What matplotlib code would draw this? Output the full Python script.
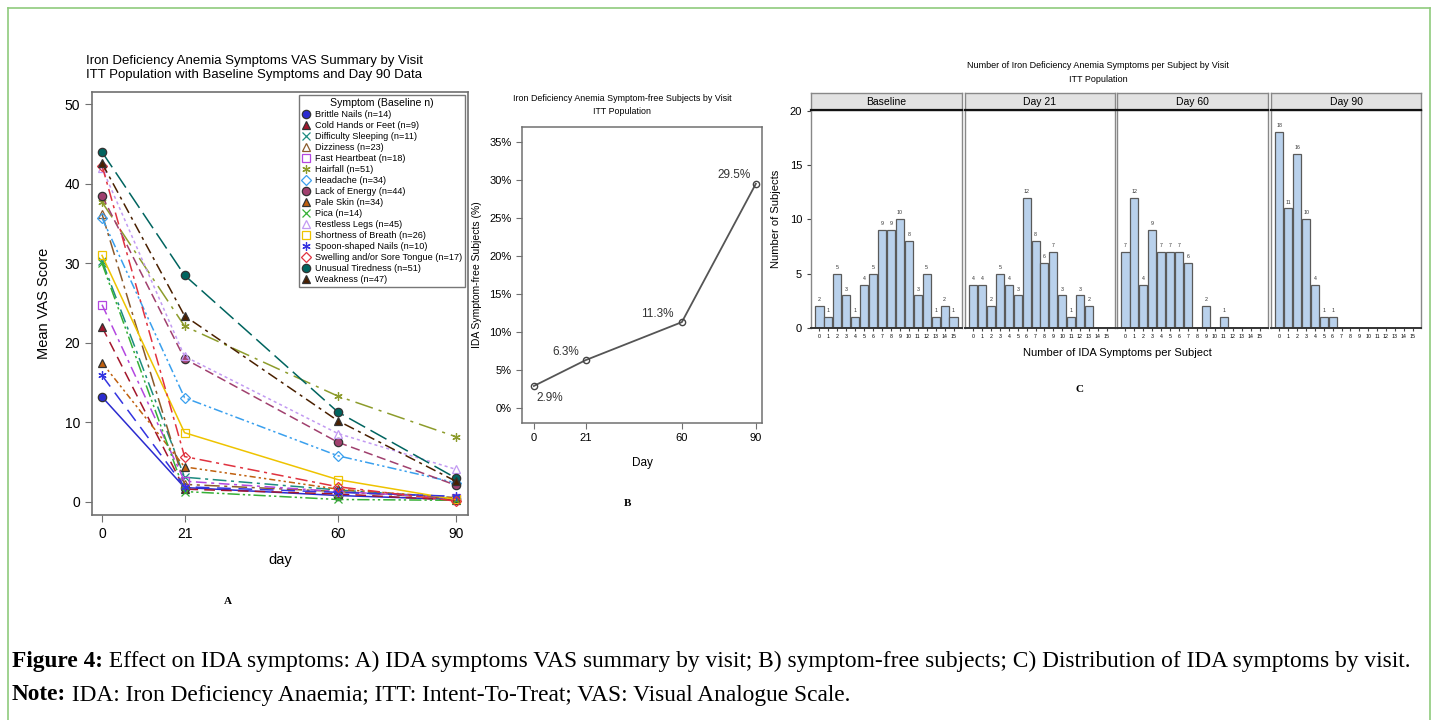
import matplotlib
matplotlib.use("Agg")
import matplotlib.pyplot as plt
from matplotlib.lines import Line2D
import numpy as np

W, H = 1436, 720
plt.rcParams['font.family'] = ['Liberation Sans', 'DejaVu Sans']

# ---------------- data ----------------
days = [0, 21, 60, 90]
symptoms = ["Brittle Nails (n=14)", "Cold Hands or Feet (n=9)", "Difficulty Sleeping (n=11)",
            "Dizziness (n=23)", "Fast Heartbeat (n=18)", "Hairfall (n=51)", "Headache (n=34)",
            "Lack of Energy (n=44)", "Pale Skin (n=34)", "Pica (n=14)", "Restless Legs (n=45)",
            "Shortness of Breath (n=26)", "Spoon-shaped Nails (n=10)",
            "Swelling and/or Sore Tongue (n=17)", "Unusual Tiredness (n=51)", "Weakness (n=47)"]
brittle_nails = [13.2, 1.8, 0.8, 0.3]
cold_hands = [22.0, 1.6, 1.0, 0.2]
difficulty_sleeping = [30.3, 3.1, 1.5, 0.5]
dizziness = [36.2, 2.2, 1.3, 0.4]
fast_heartbeat = [24.8, 2.6, 1.3, 0.5]
hairfall = [37.7, 22.1, 13.3, 8.2]
headache = [35.7, 13.1, 5.8, 2.4]
lack_of_energy = [38.5, 18.0, 7.5, 2.1]
pale_skin = [17.5, 4.4, 1.6, 0.5]
pica = [30.0, 1.3, 0.3, 0.2]
restless_legs = [42.0, 18.3, 8.6, 4.1]
shortness_of_breath = [31.0, 8.7, 2.8, 0.3]
spoon_nails = [15.9, 1.9, 1.2, 0.7]
swelling = [42.3, 5.7, 1.9, 0.1]
unusual_tiredness = [44.0, 28.5, 11.3, 3.0]
weakness = [42.6, 23.4, 10.2, 2.6]
series_a = [brittle_nails, cold_hands, difficulty_sleeping, dizziness, fast_heartbeat, hairfall,
            headache, lack_of_energy, pale_skin, pica, restless_legs, shortness_of_breath,
            spoon_nails, swelling, unusual_tiredness, weakness]

symptom_free_pct = [2.9, 6.3, 11.3, 29.5]
symptom_free_labels = ["2.9%", "6.3%", "11.3%", "29.5%"]

n_symptoms = list(range(16))
visits = ["Baseline", "Day 21", "Day 60", "Day 90"]
counts_baseline = [2, 1, 5, 3, 1, 4, 5, 9, 9, 10, 8, 3, 5, 1, 2, 1]
counts_day21 = [4, 4, 2, 5, 4, 3, 12, 8, 6, 7, 3, 1, 3, 2, 0, 0]
counts_day60 = [7, 12, 4, 9, 7, 7, 7, 6, 0, 2, 0, 1, 0, 0, 0, 0]
counts_day90 = [18, 11, 16, 10, 4, 1, 1, 0, 0, 0, 0, 0, 0, 0, 0, 0]
counts_c = [counts_baseline, counts_day21, counts_day60, counts_day90]

# ---------------- styles ----------------
styles = [
    dict(color='#2b2bcf', marker='o', mfc='#2b2bcf', ls='-'),
    dict(color='#a3162c', marker='^', mfc='#a3162c', ls=(0, (7, 4))),
    dict(color='#1d8c80', marker='x', mfc='none', ls=(0, (9, 3, 2, 3))),
    dict(color='#8b5a2b', marker='^', mfc='none', ls=(0, (10, 3, 2, 3))),
    dict(color='#b347e0', marker='s', mfc='none', ls=(0, (7, 3, 2, 3))),
    dict(color='#8d9c2c', marker=(6, 2, 0), mfc='none', ls=(0, (12, 4, 2, 4))),
    dict(color='#3aa0ee', marker='D', mfc='none', ls=(0, (6, 2, 1.5, 2, 1.5, 2))),
    dict(color='#a0406e', marker='o', mfc='#a0406e', ls=(0, (6, 3))),
    dict(color='#c0600e', marker='^', mfc='#c0600e', ls=(0, (4, 2, 1.5, 2, 1.5, 2))),
    dict(color='#36b036', marker='x', mfc='none', ls=(0, (8, 2, 1.5, 2, 1.5, 2))),
    dict(color='#c29af2', marker='^', mfc='none', ls=(0, (2, 2))),
    dict(color='#eec300', marker='s', mfc='none', ls='-'),
    dict(color='#3434e0', marker=(6, 2, 0), mfc='none', ls=(0, (9, 5))),
    dict(color='#e0323f', marker='D', mfc='none', ls=(0, (8, 3, 2, 3))),
    dict(color='#00645f', marker='o', mfc='#00645f', ls=(0, (12, 4))),
    dict(color='#4a2000', marker='^', mfc='#4a2000', ls=(0, (7, 3, 2, 3))),
]

fig = plt.figure(figsize=(W / 100, H / 100), dpi=100)


def ax_px(l, t, r, b):
    return fig.add_axes([l / W, 1 - b / H, (r - l) / W, (b - t) / H])


# green frame
fig.add_artist(Line2D([8 / W, 8 / W], [0, 1 - 8 / H], color='#8fcb7d', lw=1.2))
fig.add_artist(Line2D([8 / W, 1430 / W], [1 - 8 / H, 1 - 8 / H], color='#8fcb7d', lw=1.2))
fig.add_artist(Line2D([1430 / W, 1430 / W], [0, 1 - 8 / H], color='#8fcb7d', lw=1.2))

frame_col = '#707070'

# ---------------- Panel A ----------------
axA = ax_px(92, 92, 468, 515)
for vals, st, name in zip(series_a, styles, symptoms):
    ms = 6 if st['marker'] not in ('D',) else 5
    axA.plot(days, vals, color=st['color'], ls=st['ls'], lw=1.1, marker=st['marker'],
             mfc=st['mfc'], mec=st['color'] if st['mfc'] == 'none' else '#333333', mew=0.9,
             ms=ms, label=name)
axA.set_xlim(-2.55, 93.1)
axA.set_ylim(-1.65, 51.55)
axA.set_xticks(days)
axA.set_yticks([0, 10, 20, 30, 40, 50])
axA.tick_params(labelsize=10, color=frame_col, length=5)
for s in axA.spines.values():
    s.set_color(frame_col)
    s.set_linewidth(1.2)
axA.set_xlabel('day', fontsize=10.5, labelpad=9)
axA.set_ylabel('Mean VAS Score', fontsize=10.5, labelpad=10)
fig.text(254 / W, 1 - 68 / H, 'Iron Deficiency Anemia Symptoms VAS Summary by Visit\n'
         'ITT Population with Baseline Symptoms and Day 90 Data', fontsize=9.5,
         ha='center', va='center', linespacing=1.15)
leg = axA.legend(loc='upper right', fontsize=6.6, title='Symptom (Baseline n)', title_fontsize=7.6,
                 frameon=True, fancybox=False, edgecolor='#555555', handlelength=0.9,
                 handletextpad=0.5, labelspacing=0.22, borderpad=0.35, borderaxespad=0.3,
                 bbox_to_anchor=(1.0, 1.0))
for h in leg.legend_handles:
    h.set_linestyle('None')
fig.text(228 / W, 1 - 601 / H, 'A', fontsize=8, fontweight='bold', family='Liberation Serif',
         ha='center', va='center')

# ---------------- Panel B ----------------
axB = ax_px(522, 127, 762, 423)
axB.plot(days, symptom_free_pct, color='#555555', lw=1.3, marker='o', mfc='none', mec='#444444',
         ms=4.5, mew=1)
axB.set_xlim(-4.8, 92.5)
axB.set_ylim(-1.97, 36.97)
axB.set_xticks(days)
axB.set_yticks(range(0, 40, 5))
axB.set_yticklabels([f'{v}%' for v in range(0, 40, 5)])
axB.tick_params(labelsize=8, color=frame_col, length=4)
for s in axB.spines.values():
    s.set_color(frame_col)
    s.set_linewidth(1.1)
axB.set_xlabel('Day', fontsize=8.5, labelpad=10)
axB.set_ylabel('IDA Symptom-free Subjects (%)', fontsize=7.5, labelpad=5)
fig.text(622 / W, 1 - 105 / H,
         'Iron Deficiency Anemia Symptom-free Subjects by Visit\nITT Population',
         fontsize=6.4, ha='center', va='center', linespacing=1.6)
offsets = [(2, -9), (-5, 6), (-6, 6), (-4, 6)]
has = ['left', 'right', 'right', 'right']
for x, y, lab, off, ha in zip(days, symptom_free_pct, symptom_free_labels, offsets, has):
    axB.annotate(lab, (x, y), xytext=off, textcoords='offset points', fontsize=8.5, ha=ha,
                 va='center', color='#333333')
fig.text(628 / W, 1 - 503 / H, 'B', fontsize=8, fontweight='bold', family='Liberation Serif',
         ha='center', va='center')

# ---------------- Panel C ----------------
panel_lr = [(811, 962), (965, 1115), (1117, 1268), (1271, 1421)]
c_top, c_bot, strip_top = 110, 328, 93
for i, ((l, r), vis, cnts) in enumerate(zip(panel_lr, visits, counts_c)):
    ax = ax_px(l, c_top, r, c_bot)
    ax.bar(n_symptoms, cnts, width=0.9, color='#b9d1ec', edgecolor='#5a5a5a', lw=0.9)
    for x, v in zip(n_symptoms, cnts):
        if v > 0:
            ax.text(x, v + 0.35, str(v), fontsize=3.8, ha='center', va='bottom', color='#333333')
    ax.set_xlim(-0.95, 15.95)
    ax.set_ylim(0, 20.05)
    ax.set_xticks(n_symptoms)
    ax.tick_params(axis='x', labelsize=3.8, length=2, pad=2, color='#444444')
    if i == 0:
        ax.set_yticks([0, 5, 10, 15, 20])
        ax.tick_params(axis='y', labelsize=8, length=3, color='#444444')
        ax.set_ylabel('Number of Subjects', fontsize=8, labelpad=6)
    else:
        ax.set_yticks([])
    for s in ax.spines.values():
        s.set_color('#888888')
        s.set_linewidth(1.0)
    ax.spines['bottom'].set_color('#333333')
    ax.spines['bottom'].set_linewidth(1.4)
    sax = ax_px(l, strip_top, r, c_top)
    sax.set_facecolor('#e2e2e2')
    sax.set_xticks([])
    sax.set_yticks([])
    for s in sax.spines.values():
        s.set_color('#888888')
        s.set_linewidth(1.0)
    sax.spines['bottom'].set_color('#111111')
    sax.spines['bottom'].set_linewidth(1.6)
    sax.text(0.5, 0.45, vis, transform=sax.transAxes, ha='center', va='center', fontsize=7.5)

fig.text(1098 / W, 1 - 65 / H, 'Number of Iron Deficiency Anemia Symptoms per Subject by Visit',
         fontsize=6.5, ha='center', va='center')
fig.text(1098 / W, 1 - 80 / H, 'ITT Population', fontsize=6.5, ha='center', va='center')
fig.text(1117 / W, 1 - 353 / H, 'Number of IDA Symptoms per Subject', fontsize=8, ha='center',
         va='center')
fig.text(1080 / W, 1 - 389 / H, 'C', fontsize=8, fontweight='bold', family='Liberation Serif',
         ha='center', va='center')

# ---------------- caption ----------------
cap_lines = [("Figure 4:", " Effect on IDA symptoms: A) IDA symptoms VAS summary by visit; "
              "B) symptom-free subjects; C) Distribution of IDA symptoms by visit."),
             ("Note:", " IDA: Iron Deficiency Anaemia; ITT: Intent-To-Treat; VAS: Visual Analogue Scale.")]
cap_y = [661, 695]
renderer = fig.canvas.get_renderer()
fs0 = 15
tb = fig.text(0, 0, cap_lines[0][0], fontsize=fs0, family='Liberation Serif', fontweight='bold')
tn = fig.text(0, 0, cap_lines[0][1], fontsize=fs0, family='Liberation Serif')
wtot = tb.get_window_extent(renderer).width + tn.get_window_extent(renderer).width
tb.remove()
tn.remove()
fs = fs0 * (1410 - 12) / wtot
for (bold, rest), y in zip(cap_lines, cap_y):
    t1 = fig.text(12 / W, 1 - y / H, bold, fontsize=fs, family='Liberation Serif',
                  fontweight='bold', ha='left', va='center')
    x1 = t1.get_window_extent(renderer).x1
    fig.text(x1 / W, 1 - y / H, rest, fontsize=fs, family='Liberation Serif', ha='left',
             va='center')

fig.savefig('out.png', dpi=100)
